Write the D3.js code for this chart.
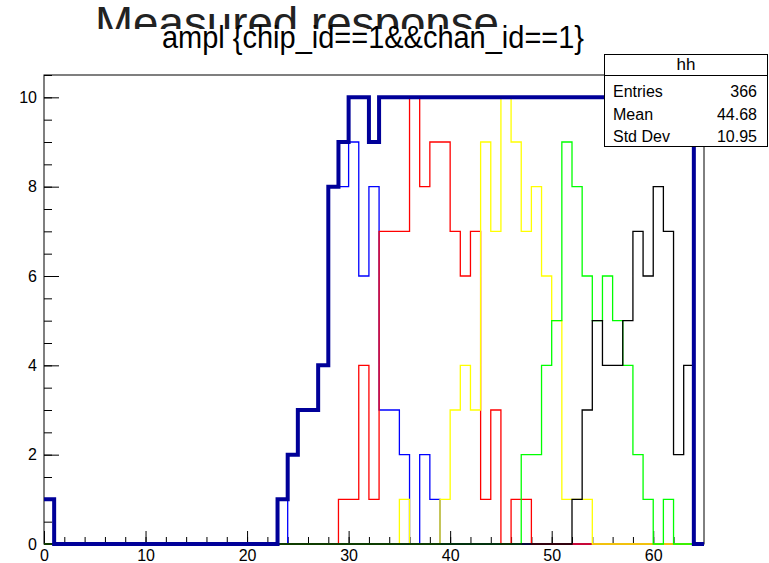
<!DOCTYPE html>
<html lang="en">
<head>
<meta charset="utf-8">
<title>ampl chip 1 chan 1</title>
<script src="https://cdn.jsdelivr.net/npm/d3@7"></script>
<style>
    body { margin: 0; background: #fff; }
    svg text { font-family: "Liberation Sans", Arial, sans-serif; }
</style>
</head>
<body>
<svg id="chart"></svg>
<script>
    // one entry per bin, bins of width 1 from 0 to 65
    const binLow = [0, 1, 2, 3, 4, 5, 6, 7, 8, 9, 10, 11, 12, 13, 14, 15, 16, 17, 18, 19, 20,
        21, 22, 23, 24, 25, 26, 27, 28, 29, 30, 31, 32, 33, 34, 35, 36, 37, 38, 39, 40,
        41, 42, 43, 44, 45, 46, 47, 48, 49, 50, 51, 52, 53, 54, 55, 56, 57, 58, 59, 60,
        61, 62, 63, 64];

    const blueCounts = [0, 0, 0, 0, 0, 0, 0, 0, 0, 0, 0, 0, 0, 0, 0, 0, 0, 0, 0, 0, 0,
        0, 0, 0, 2, 3, 3, 4, 8, 8, 9, 6, 8, 3, 3, 2, 0, 2, 1, 0, 0,
        0, 0, 0, 0, 0, 0, 0, 0, 0, 0, 0, 0, 0, 0, 0, 0, 0, 0, 0, 0,
        0, 0, 0, 0];
    const redCounts = [0, 0, 0, 0, 0, 0, 0, 0, 0, 0, 0, 0, 0, 0, 0, 0, 0, 0, 0, 0, 0,
        0, 0, 0, 0, 0, 0, 0, 0, 1, 1, 4, 1, 7, 7, 7, 10, 8, 9, 9, 7,
        6, 7, 1, 3, 0, 1, 1, 0, 0, 0, 0, 0, 0, 0, 0, 0, 0, 0, 0, 0,
        0, 0, 0, 0];
    const yellowCounts = [0, 0, 0, 0, 0, 0, 0, 0, 0, 0, 0, 0, 0, 0, 0, 0, 0, 0, 0, 0, 0,
        0, 0, 0, 0, 0, 0, 0, 0, 0, 0, 0, 0, 0, 0, 1, 0, 0, 0, 1, 3,
        4, 3, 9, 7, 10, 9, 7, 8, 6, 5, 1, 1, 1, 0, 0, 0, 0, 0, 0, 0,
        0, 0, 0, 0];
    const greenCounts = [0, 0, 0, 0, 0, 0, 0, 0, 0, 0, 0, 0, 0, 0, 0, 0, 0, 0, 0, 0, 0,
        0, 0, 0, 0, 0, 0, 0, 0, 0, 0, 0, 0, 0, 0, 0, 0, 0, 0, 0, 0,
        0, 0, 0, 0, 0, 0, 2, 2, 4, 5, 9, 8, 6, 5, 6, 5, 4, 2, 1, 0,
        1, 0, 0, 0];
    const blackCounts = [0, 0, 0, 0, 0, 0, 0, 0, 0, 0, 0, 0, 0, 0, 0, 0, 0, 0, 0, 0, 0,
        0, 0, 0, 0, 0, 0, 0, 0, 0, 0, 0, 0, 0, 0, 0, 0, 0, 0, 0, 0,
        0, 0, 0, 0, 0, 0, 0, 0, 0, 0, 0, 1, 3, 5, 4, 4, 5, 7, 6, 8,
        7, 2, 4, 0];
    // "hh", the histogram the stats box belongs to
    const hhCounts = [1, 0, 0, 0, 0, 0, 0, 0, 0, 0, 0, 0, 0, 0, 0, 0, 0, 0, 0, 0, 0,
        0, 0, 1, 2, 3, 3, 4, 8, 9, 10, 10, 9, 10, 10, 10, 10, 10, 10, 10, 10,
        10, 10, 10, 10, 10, 10, 10, 10, 10, 10, 10, 10, 10, 10, 10, 10, 10, 10, 10, 10,
        10, 10, 10, 0];

    const xTicks = [0, 10, 20, 30, 40, 50, 60];
    const yTicks = [0, 2, 4, 6, 8, 10];
    const statLabels = ["Entries", "Mean", "Std Dev"];
    const statValues = ["366", "44.68", "10.95"];

    const width = 769, height = 563;
    const frame = {left: 44, right: 704, top: 75, bottom: 544};

    const svg = d3.select("#chart").attr("width", width).attr("height", height);

    const x = d3.scaleLinear().domain([0, 65]).range([frame.left, frame.right]);
    const y = d3.scaleLinear().domain([0, 10.5]).range([frame.bottom, frame.top]);

    // step outline the way ROOT draws a histogram
    function stepPath(counts) {
        const p = d3.path();
        p.moveTo(x(binLow[0]), y(counts[0]));
        counts.forEach((c, i) => {
            if (i > 0) p.lineTo(x(binLow[i]), y(c));
            p.lineTo(x(binLow[i] + 1), y(c));
        });
        return p.toString();
    }

    // big title, partly hidden by the title pave
    svg.append("text")
        .attr("x", 95).attr("y", 38)
        .attr("font-size", 44)
        .attr("textLength", 404).attr("lengthAdjust", "spacingAndGlyphs")
        .attr("fill", "#222")
        .text("Measured response");

    // frame box
    svg.append("rect")
        .attr("x", frame.left).attr("y", frame.top)
        .attr("width", frame.right - frame.left).attr("height", frame.bottom - frame.top)
        .attr("fill", "none").attr("stroke", "#000").attr("stroke-width", 1);

    // axes, ROOT style ticks pointing into the frame
    const xMajor = d3.axisBottom(x).tickValues(xTicks).tickSize(-13).tickPadding(6);
    const xMinor = d3.axisBottom(x).ticks(32).tickSize(-7).tickFormat("");
    const yMajor = d3.axisLeft(y).tickValues(yTicks).tickSize(-15).tickPadding(7);
    const yMinor = d3.axisLeft(y).ticks(21).tickSize(-8).tickFormat("");

    function styleAxis(g) {
        g.select(".domain").remove();
        g.selectAll("line").attr("stroke", "#000");
        g.selectAll("text").attr("font-size", 16).attr("fill", "#000");
    }
    svg.append("g").attr("transform", `translate(0,${frame.bottom})`).call(xMinor).call(styleAxis);
    svg.append("g").attr("transform", `translate(0,${frame.bottom})`).call(xMajor).call(styleAxis);
    svg.append("g").attr("transform", `translate(${frame.left},0)`).call(yMinor).call(styleAxis);
    svg.append("g").attr("transform", `translate(${frame.left},0)`).call(yMajor).call(styleAxis);

    const series = [
        {counts: blueCounts, color: "#0000ff", w: 1.3},
        {counts: redCounts, color: "#ff0000", w: 1.3},
        {counts: yellowCounts, color: "#ffff00", w: 1.3},
        {counts: greenCounts, color: "#00ff00", w: 1.3},
        {counts: blackCounts, color: "#000000", w: 1.3},
        {counts: hhCounts, color: "#000099", w: 4}
    ];

    svg.append("g")
        .selectAll("path")
        .data(series)
        .join("path")
        .attr("d", d => stepPath(d.counts))
        .attr("fill", "none")
        .attr("stroke", d => d.color)
        .attr("stroke-width", d => d.w)
        .attr("stroke-linejoin", "miter");

    // title pave, white box over the lower part of the big title
    svg.append("rect")
        .attr("x", 60).attr("y", 29).attr("width", 620).attr("height", 34)
        .attr("fill", "#fff");
    svg.append("text")
        .attr("x", 373).attr("y", 48)
        .attr("text-anchor", "middle")
        .attr("font-size", 31)
        .attr("textLength", 422).attr("lengthAdjust", "spacingAndGlyphs")
        .attr("fill", "#000")
        .text("ampl {chip_id==1&&chan_id==1}");

    // stats box
    const stats = svg.append("g");
    stats.append("rect")
        .attr("x", 604.5).attr("y", 54.5).attr("width", 163).attr("height", 92)
        .attr("fill", "#fff").attr("stroke", "#000");
    stats.append("line")
        .attr("x1", 604.5).attr("x2", 767.5).attr("y1", 75.5).attr("y2", 75.5)
        .attr("stroke", "#000");
    stats.append("text")
        .attr("x", 686).attr("y", 70).attr("text-anchor", "middle")
        .attr("font-size", 17).text("hh");
    stats.selectAll(".lbl")
        .data(statLabels)
        .join("text")
        .attr("class", "lbl")
        .attr("x", 613).attr("y", (d, i) => 97 + i * 22.5)
        .attr("font-size", 16).text(d => d);
    stats.selectAll(".val")
        .data(statValues)
        .join("text")
        .attr("class", "val")
        .attr("x", 757).attr("y", (d, i) => 97 + i * 22.5)
        .attr("text-anchor", "end")
        .attr("font-size", 16).text(d => d);
</script>
</body>
</html>
